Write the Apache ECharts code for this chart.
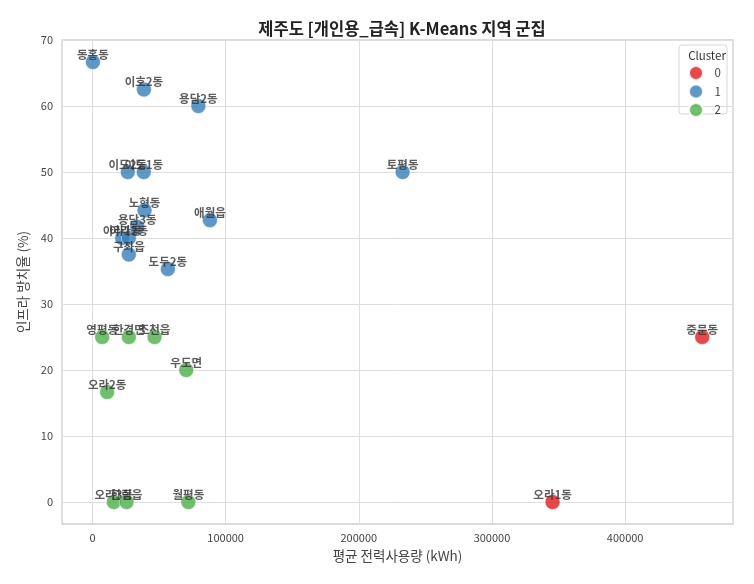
<!DOCTYPE html>
<html>
<head>
<meta charset="utf-8">
<script src="https://cdn.jsdelivr.net/npm/echarts@6/dist/echarts.min.js"></script>
<style>
  html, body { margin: 0; padding: 0; background: #fff; }
  #chart { width: 754px; height: 584px; }
</style>
</head>
<body>
<div id="chart"></div>
<script>
// 지역별 값
var regions = ['동홍동', '이호2동', '용담2동', '이도2동', '이도1동', '노형동', '용담3동', '아라1동', '아라2동', '구좌읍', '도두2동', '애월읍', '토평동',
               '영평동', '한경면', '조천읍', '우도면', '오라2동', '오라3동', '한림읍', '월평동',
               '오라1동', '중문동'];
var usage = [300, 38600, 79500, 26500, 38500, 39100, 33600, 22300, 27300, 27300, 56600, 88200, 232900,
             7300, 27300, 46600, 70400, 11000, 16000, 25600, 72000,
             345500, 457900];
var idleRate = [66.67, 62.5, 60, 50, 50, 44.2, 41.7, 40, 40, 37.5, 35.3, 42.7, 50,
                25, 25, 25, 20, 16.67, 0, 0, 0,
                0, 25];
var cluster = [1, 1, 1, 1, 1, 1, 1, 1, 1, 1, 1, 1, 1,
               2, 2, 2, 2, 2, 2, 2, 2,
               0, 0];
var clusterNames = ['0', '1', '2'];
var clusterColors = ['#e41a1c', '#377eb8', '#4daf4a'];
var xTicks = [0, 100000, 200000, 300000, 400000];
var yTicks = [0, 10, 20, 30, 40, 50, 60, 70];

var FONT = '"Noto Sans CJK KR", "Noto Sans", sans-serif';

var chart = echarts.init(document.getElementById('chart'));

var series = [];
for (var c = 0; c < clusterNames.length; c++) {
    var pts = [];
    for (var i = 0; i < regions.length; i++) {
        if (cluster[i] === c) {
            pts.push({name: regions[i], value: [usage[i], idleRate[i]]});
        }
    }
    series.push({
        name: clusterNames[c],
        type: 'scatter',
        symbolSize: 15,
        itemStyle: {color: clusterColors[c], opacity: 0.8, borderColor: '#fff', borderWidth: 0.6},
        label: {
            show: true,
            position: 'top',
            distance: -6,
            formatter: function (p) { return p.name; },
            fontFamily: FONT,
            fontSize: 11.5,
            fontWeight: 'bold',
            color: '#333'
        },
        labelLayout: {hideOverlap: false},
        data: pts
    });
}

var option = {
    backgroundColor: '#fff',
    textStyle: {fontFamily: FONT},
    title: [{
        text: '제주도 [개인용_급속] K-Means 지역 군집',
        left: 397, top: 15, textAlign: 'center',
        textStyle: {fontFamily: FONT, fontSize: 16.5, fontWeight: 'bold', color: '#222'}
    }, {
        text: 'Cluster',
        left: 702, top: 45, textAlign: 'center',
        textStyle: {fontFamily: FONT, fontSize: 11.5, fontWeight: 'normal', color: '#333'}
    }],
    graphic: [{
        type: 'rect',
        shape: {x: 679, y: 45, width: 48, height: 69, r: 3},
        style: {fill: 'rgba(255,255,255,0.85)', stroke: '#d6d6d6', lineWidth: 1},
        z: 0
    }],
    legend: {
        data: clusterNames,
        orient: 'vertical',
        left: 688, top: 65,
        padding: 0,
        icon: 'circle',
        itemWidth: 15, itemHeight: 14,
        itemGap: 2.5,
        textStyle: {fontFamily: FONT, fontSize: 11.5, lineHeight: 14, color: '#444', padding: [0, 0, 0, 6]}
    },
    grid: {left: 62, right: 21, top: 40, bottom: 60, show: true, borderColor: '#cfcfcf', borderWidth: 1.3},
    xAxis: {
        type: 'value',
        min: -22900, max: 481000,
        name: '평균 전력사용량 (kWh)',
        nameLocation: 'middle',
        nameGap: 25,
        nameTextStyle: {fontFamily: FONT, fontSize: 13.5, color: '#444'},
        axisLine: {show: false},
        axisTick: {show: false, customValues: xTicks},
        axisLabel: {customValues: xTicks, formatter: function (v) { return String(v); }, color: '#444', fontSize: 11, margin: 8, fontFamily: FONT},
        splitLine: {show: true, lineStyle: {color: '#dedede', width: 1}}
    },
    yAxis: {
        type: 'value',
        min: -3.33, max: 70,
        name: '인프라 방치율 (%)',
        nameLocation: 'middle',
        nameGap: 24,
        nameTextStyle: {fontFamily: FONT, fontSize: 13.5, color: '#444'},
        axisLine: {show: false},
        axisTick: {show: false, customValues: yTicks},
        axisLabel: {customValues: yTicks, color: '#444', fontSize: 11, margin: 9, fontFamily: FONT},
        splitLine: {show: true, lineStyle: {color: '#dedede', width: 1}}
    },
    series: series
};
chart.setOption(option);
</script>
</body>
</html>
